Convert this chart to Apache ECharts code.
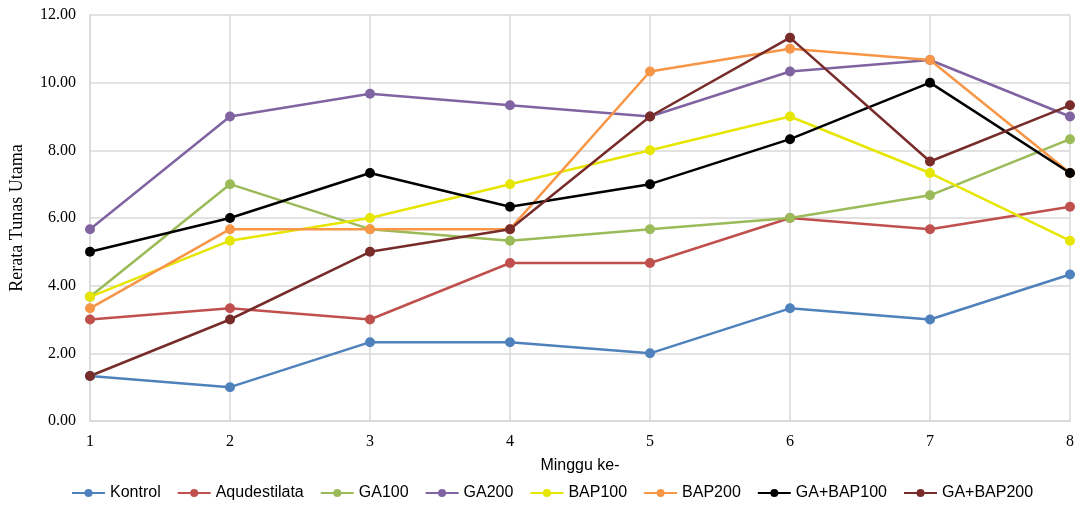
<!DOCTYPE html>
<html><head><meta charset="utf-8">
<script src="https://cdn.jsdelivr.net/npm/echarts@6/dist/echarts.min.js"></script>
<style>html,body{margin:0;padding:0;background:#fff}#c{width:1077px;height:508px}</style>
</head><body><div id="c"></div>
<script>
var categories = ['1','2','3','4','5','6','7','8'];
var seriesNames = ['Kontrol','Aqudestilata','GA100','GA200','BAP100','BAP200','GA+BAP100','GA+BAP200'];
var kontrol = [1.33, 1.00, 2.33, 2.33, 2.00, 3.33, 3.00, 4.33];
var aqudestilata = [3.00, 3.33, 3.00, 4.67, 4.67, 6.00, 5.67, 6.33];
var ga100 = [3.67, 7.00, 5.67, 5.33, 5.67, 6.00, 6.67, 8.33];
var ga200 = [5.67, 9.00, 9.67, 9.33, 9.00, 10.33, 10.67, 9.00];
var bap100 = [3.67, 5.33, 6.00, 7.00, 8.00, 9.00, 7.33, 5.33];
var bap200 = [3.33, 5.67, 5.67, 5.67, 10.33, 11.00, 10.67, 7.33];
var gaBap100 = [5.00, 6.00, 7.33, 6.33, 7.00, 8.33, 10.00, 7.33];
var gaBap200 = [1.33, 3.00, 5.00, 5.67, 9.00, 11.33, 7.67, 9.33];
var colors = ['#4F81BD','#C0504D','#9BBB59','#8064A2','#E6E600','#F79646','#000000','#772C2A'];
var allData = [kontrol, aqudestilata, ga100, ga200, bap100, bap200, gaBap100, gaBap200];

var chart = echarts.init(document.getElementById('c'));
chart.setOption({
  animation: false,
  color: colors,
  grid: {left: 90, right: 6, top: 15, bottom: 87, containLabel: false},
  legend: {
    bottom: 2, left: 66, itemWidth: 33, itemHeight: 10, itemGap: 16,
    textStyle: {fontFamily: 'Liberation Sans Narrow, Liberation Sans, sans-serif', fontSize: 16, color: '#000'},
    data: seriesNames
  },
  xAxis: {
    type: 'category', data: categories, boundaryGap: false,
    name: 'Minggu ke-', nameLocation: 'middle', nameGap: 37,
    nameTextStyle: {fontFamily: 'Liberation Sans Narrow, Liberation Sans, sans-serif', fontSize: 16, color: '#000'},
    axisLine: {lineStyle: {color: '#D9D9D9', width: 1.5}},
    axisTick: {show: false},
    axisLabel: {fontFamily: 'Liberation Serif, serif', fontSize: 16, color: '#000', margin: 13},
    splitLine: {show: true, lineStyle: {color: '#D9D9D9', width: 1.5}}
  },
  yAxis: {
    type: 'value', min: 0, max: 12, interval: 2,
    name: 'Rerata Tunas Utama', nameLocation: 'middle', nameGap: 64,
    nameTextStyle: {fontFamily: 'Liberation Serif, serif', fontSize: 18, color: '#000'},
    axisLine: {show: true, lineStyle: {color: '#D9D9D9', width: 1.5}},
    axisTick: {show: false},
    axisLabel: {fontFamily: 'Liberation Serif, serif', fontSize: 16, color: '#000', margin: 14,
      formatter: function(v){return v.toFixed(2);}},
    splitLine: {show: true, lineStyle: {color: '#D9D9D9', width: 1.5}}
  },
  series: allData.map(function(d, i){
    return {
      name: seriesNames[i], type: 'line', data: d,
      symbol: 'circle', symbolSize: 10,
      lineStyle: {width: 2.5, color: colors[i]},
      itemStyle: {color: colors[i]}
    };
  })
});
</script></body></html>
